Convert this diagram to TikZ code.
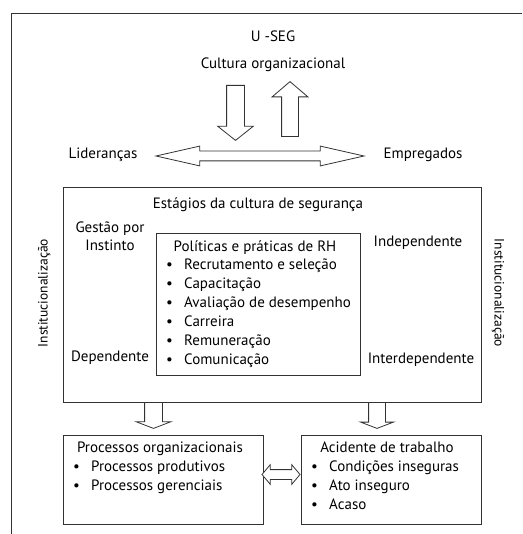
\documentclass[tikz,border=0pt]{standalone}
\usepackage{fontspec}
\setmainfont{PT Sans}
\usetikzlibrary{shapes.arrows}

\tikzset{
  box/.style={draw=black!80, line width=0.8pt, inner sep=0pt},
  lbl/.style={inner sep=0pt, font=\fontsize{15}{18}\selectfont, text height=10.5pt, text depth=3.5pt},
  item/.style={lbl, anchor=west},
  sidelbl/.style={lbl, font=\fontsize{13.5}{16}\selectfont},
  blockarrow/.style={single arrow, draw=black!80, line width=0.8pt, inner xsep=0pt, fill=white},
  twoway/.style={double arrow, draw=black!80, line width=0.8pt, inner xsep=0pt, fill=white},
}
\newcommand{\bul}{\makebox[18pt][l]{\textbullet}}

\begin{document}
\begin{tikzpicture}[x=1pt, y=-1pt]
\useasboundingbox (0,0) rectangle (522,534);
% outer frame (top and left only)
\draw[black!80, line width=0.8pt] (522,13) -- (11,13) -- (11,534);

% top part
\node[lbl] (useg) at (273,38) {U -SEG};
\node[lbl] (cultura) at (273,65) {Cultura organizacional};
\node[lbl] (lider) at (103,155) {Lideranças};
\node[lbl] (empreg) at (423,155) {Empregados};
\node[blockarrow, rotate=-90, anchor=tail, minimum height=55pt, inner ysep=8.5pt,
      single arrow head extend=9pt, single arrow tip angle=103] (down) at (235.5,85) {};
\node[blockarrow, rotate=90, anchor=tail, minimum height=55pt, inner ysep=8pt,
      single arrow head extend=9.5pt, single arrow tip angle=99] (up) at (290,137) {};
\node[twoway, minimum height=208pt, inner ysep=4.5pt,
      double arrow head extend=5pt, double arrow tip angle=25.5] (lidemp) at (260,156) {};

% stages box
\node[box, minimum width=418pt, minimum height=215pt] (stages) at (272,294.5) {};
\node[lbl] (stitle) at (258,205) {Estágios da cultura de segurança};
\node[lbl, align=center] (gestao) at (110,247) {Gestão por\\Instinto};
\node[lbl] (dep) at (110,358) {Dependente};
\node[lbl] (indep) at (418,243) {Independente};
\node[lbl] (inter) at (421,360) {Interdependente};
\node[sidelbl, rotate=90] (instl) at (44,293) {Institucionalização};
\node[sidelbl, rotate=-90] (instr) at (498,293) {Institucionalização};

% RH box
\node[box, minimum width=204pt, minimum height=142pt] (rh) at (258,304) {};
\node[lbl] (rhtitle) at (255,248) {Políticas e práticas de RH};
\foreach \txt [count=\i] in {Recrutamento e seleção, Capacitação, Avaliação de desempenho,
    Carreira, Remuneração, Comunicação}
  \node[item] (rh\i) at (166,247+19*\i) {\bul\txt};

% arrows to the bottom boxes
\node[blockarrow, rotate=-90, anchor=tail, minimum height=26pt, inner ysep=8.5pt,
      single arrow head extend=8.5pt, single arrow tip angle=138] (toproc) at (153.5,402) {};
\node[blockarrow, rotate=-90, anchor=tail, minimum height=26pt, inner ysep=8pt,
      single arrow head extend=8pt, single arrow tip angle=138] (toacid) at (377,402) {};

% bottom boxes
\node[box, minimum width=200pt, minimum height=89pt] (proc) at (163,479.5) {};
\node[lbl] (proctitle) at (160,449) {Processos organizacionais};
\node[item] (proc1) at (73,468) {\bul Processos produtivos};
\node[item] (proc2) at (73,487) {\bul Processos gerenciais};

\node[box, minimum width=180pt, minimum height=89pt] (acid) at (391,479.5) {};
\node[lbl] (acidtitle) at (387,449) {Acidente de trabalho};
\node[item] (acid1) at (311,468) {\bul Condições inseguras};
\node[item] (acid2) at (311,487) {\bul Ato inseguro};
\node[item] (acid3) at (311,506) {\bul Acaso};

\node[twoway, minimum height=38pt, inner ysep=4.5pt,
      double arrow head extend=5pt, double arrow tip angle=100] (procacid) at (281,474.5) {};

\end{tikzpicture}
\end{document}
